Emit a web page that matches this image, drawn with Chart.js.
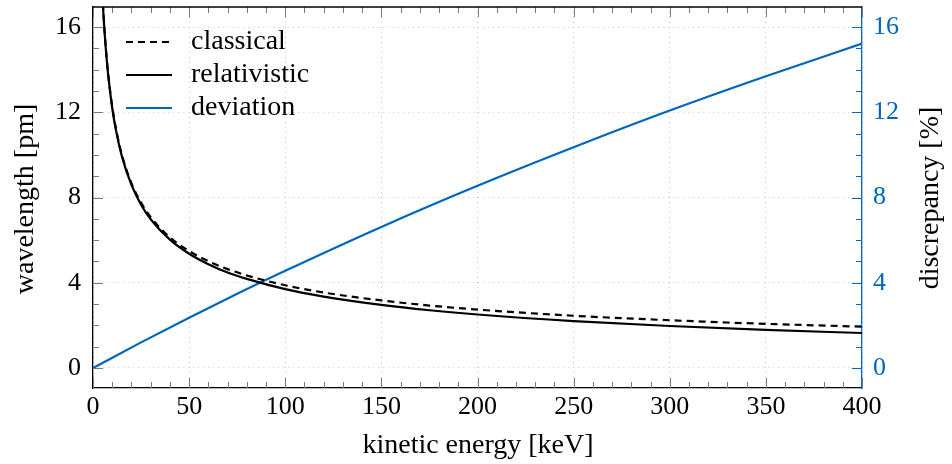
<!DOCTYPE html>
<html lang="en">
<head>
    <meta charset="UTF-8">
    <title>Electron wavelength</title>
    <script src="https://cdn.jsdelivr.net/npm/chart.js"></script>
    <style>
        body { margin: 0; background: #fff; }
        #wrap { width: 952px; height: 464px; }
    </style>
</head>
<body>
    <div id="wrap"><canvas id="chart"></canvas></div>

    <script>
        // kinetic energy in keV, wavelengths in pm
        var energy = [4, 5, 6, 7, 8, 10, 12, 15, 20, 25, 30, 40, 50, 60, 70, 80, 100, 120, 150, 175, 200, 250, 300, 350, 400];
        var classical = [19.39, 17.34, 15.83, 14.66, 13.71, 12.26, 11.20, 10.01, 8.67, 7.76, 7.08, 6.13, 5.49, 5.01, 4.64, 4.34, 3.88, 3.54, 3.17, 2.93, 2.74, 2.45, 2.24, 2.07, 1.94];
        var relativistic = [19.35, 17.30, 15.79, 14.61, 13.66, 12.20, 11.13, 9.94, 8.59, 7.66, 6.98, 6.02, 5.36, 4.87, 4.48, 4.18, 3.70, 3.35, 2.96, 2.71, 2.51, 2.20, 1.97, 1.79, 1.64];

        // discrepancy in percent
        var devEnergy = [0, 25, 50, 75, 100, 150, 200, 250, 300, 350, 400];
        var deviation = [0, 1.20, 2.36, 3.48, 4.56, 6.62, 8.55, 10.36, 12.08, 13.69, 15.22];

        var xTicks = [0, 50, 100, 150, 200, 250, 300, 350, 400];
        var yTicks = [0, 4, 8, 12, 16];

        var BLUE = 'rgb(0, 101, 189)';
        var FONT = "'Liberation Serif', serif";

        function pairs(xs, ys) {
            return xs.map(function (x, i) { return { x: x, y: ys[i] }; });
        }

        function fixedTicks(list) {
            return function (s) { s.ticks = list.map(function (v) { return { value: v }; }); };
        }

        // keep the plot box where we put it, no extra room for edge labels
        function noMargins(s) {
            s.paddingTop = s.paddingBottom = s.paddingLeft = s.paddingRight = 0;
        }

        // inward ticks (major + minor), top border, legend and axis titles
        var decorations = {
            id: 'decorations',
            afterDraw: function (chart) {
                var ctx = chart.ctx;
                var a = chart.chartArea;
                var sx = chart.scales.x, sy = chart.scales.y;
                ctx.save();
                ctx.lineWidth = 1;

                ctx.strokeStyle = '#7a7a7a';
                for (var v = 0; v <= 400; v += 10) {
                    var px = Math.round(sx.getPixelForValue(v)) + 0.5;
                    var len = v % 50 === 0 ? 10 : 6;
                    ctx.beginPath();
                    ctx.moveTo(px, a.bottom); ctx.lineTo(px, a.bottom - len);
                    ctx.moveTo(px, a.top); ctx.lineTo(px, a.top + len);
                    ctx.stroke();
                }
                for (var w = 0; w <= 16; w++) {
                    var py = Math.round(sy.getPixelForValue(w)) + 0.5;
                    var l2 = w % 4 === 0 ? 10 : 6;
                    ctx.strokeStyle = '#7a7a7a';
                    ctx.beginPath();
                    ctx.moveTo(a.left, py); ctx.lineTo(a.left + l2, py);
                    ctx.stroke();
                    ctx.strokeStyle = BLUE;
                    ctx.beginPath();
                    ctx.moveTo(a.right, py); ctx.lineTo(a.right - l2, py);
                    ctx.stroke();
                }

                ctx.strokeStyle = '#000';
                ctx.lineWidth = 1.3;
                ctx.beginPath();
                ctx.moveTo(a.left, a.top); ctx.lineTo(a.right, a.top);
                ctx.stroke();

                // legend
                ctx.font = '28px ' + FONT;
                ctx.textBaseline = 'middle';
                ctx.fillStyle = '#000';
                chart.data.datasets.forEach(function (ds, i) {
                    var y = 42 + i * 33;
                    ctx.strokeStyle = ds.borderColor;
                    ctx.lineWidth = ds.borderWidth;
                    ctx.setLineDash(ds.borderDash || []);
                    ctx.beginPath();
                    ctx.moveTo(126, y); ctx.lineTo(172, y);
                    ctx.stroke();
                    ctx.setLineDash([]);
                    ctx.fillText(ds.label, 191, y);
                });

                // axis titles
                ctx.textBaseline = 'alphabetic';
                ctx.textAlign = 'center';
                ctx.fillText('kinetic energy [keV]', 478, 453);
                ctx.save();
                ctx.translate(33, 199);
                ctx.rotate(-Math.PI / 2);
                ctx.fillText('wavelength [pm]', 0, 0);
                ctx.restore();
                ctx.save();
                ctx.translate(938, 198);
                ctx.rotate(-Math.PI / 2);
                ctx.fillText('discrepancy [%]', 0, 0);
                ctx.restore();
                ctx.restore();
            }
        };

        var grid = {
            color: '#c8c8c8',
            lineWidth: 1,
            drawTicks: false
        };

        new Chart(document.getElementById('chart'), {
            type: 'line',
            data: {
                datasets: [{
                    label: 'classical',
                    data: pairs(energy, classical),
                    borderColor: '#000',
                    borderWidth: 2.2,
                    borderDash: [7, 5],
                    yAxisID: 'y'
                }, {
                    label: 'relativistic',
                    data: pairs(energy, relativistic),
                    borderColor: '#000',
                    borderWidth: 2.2,
                    yAxisID: 'y'
                }, {
                    label: 'deviation',
                    data: pairs(devEnergy, deviation),
                    borderColor: BLUE,
                    borderWidth: 2.2,
                    yAxisID: 'y2'
                }]
            },
            options: {
                responsive: true,
                maintainAspectRatio: false,
                animation: false,
                devicePixelRatio: 1,
                layout: { padding: { top: 7, left: 0, right: 0, bottom: 0 } },
                elements: {
                    point: { radius: 0 },
                    line: { cubicInterpolationMode: 'monotone' }
                },
                plugins: {
                    legend: { display: false },
                    tooltip: { enabled: false }
                },
                scales: {
                    x: {
                        type: 'linear',
                        min: 0,
                        max: 400,
                        afterBuildTicks: fixedTicks(xTicks),
                        afterFit: function (s) { s.height = 76; noMargins(s); },
                        ticks: { color: '#000', font: { family: FONT, size: 26 }, padding: 4, maxRotation: 0 },
                        grid: grid,
                        border: { color: '#000', width: 1.3, dash: [1, 4] }
                    },
                    y: {
                        position: 'left',
                        min: -0.94,
                        max: 16.94,
                        afterBuildTicks: fixedTicks(yTicks),
                        afterFit: function (s) { s.width = 93; noMargins(s); },
                        ticks: { color: '#000', font: { family: FONT, size: 26 }, padding: 12 },
                        grid: grid,
                        border: { color: '#000', width: 1.3, dash: [1, 4] }
                    },
                    y2: {
                        position: 'right',
                        min: -0.94,
                        max: 16.94,
                        afterBuildTicks: fixedTicks(yTicks),
                        afterFit: function (s) { s.width = 90; noMargins(s); },
                        ticks: { color: BLUE, font: { family: FONT, size: 26 }, padding: 11 },
                        grid: { display: false, drawTicks: false },
                        border: { color: BLUE, width: 1.3 }
                    }
                }
            },
            plugins: [decorations]
        });
    </script>
</body>
</html>
